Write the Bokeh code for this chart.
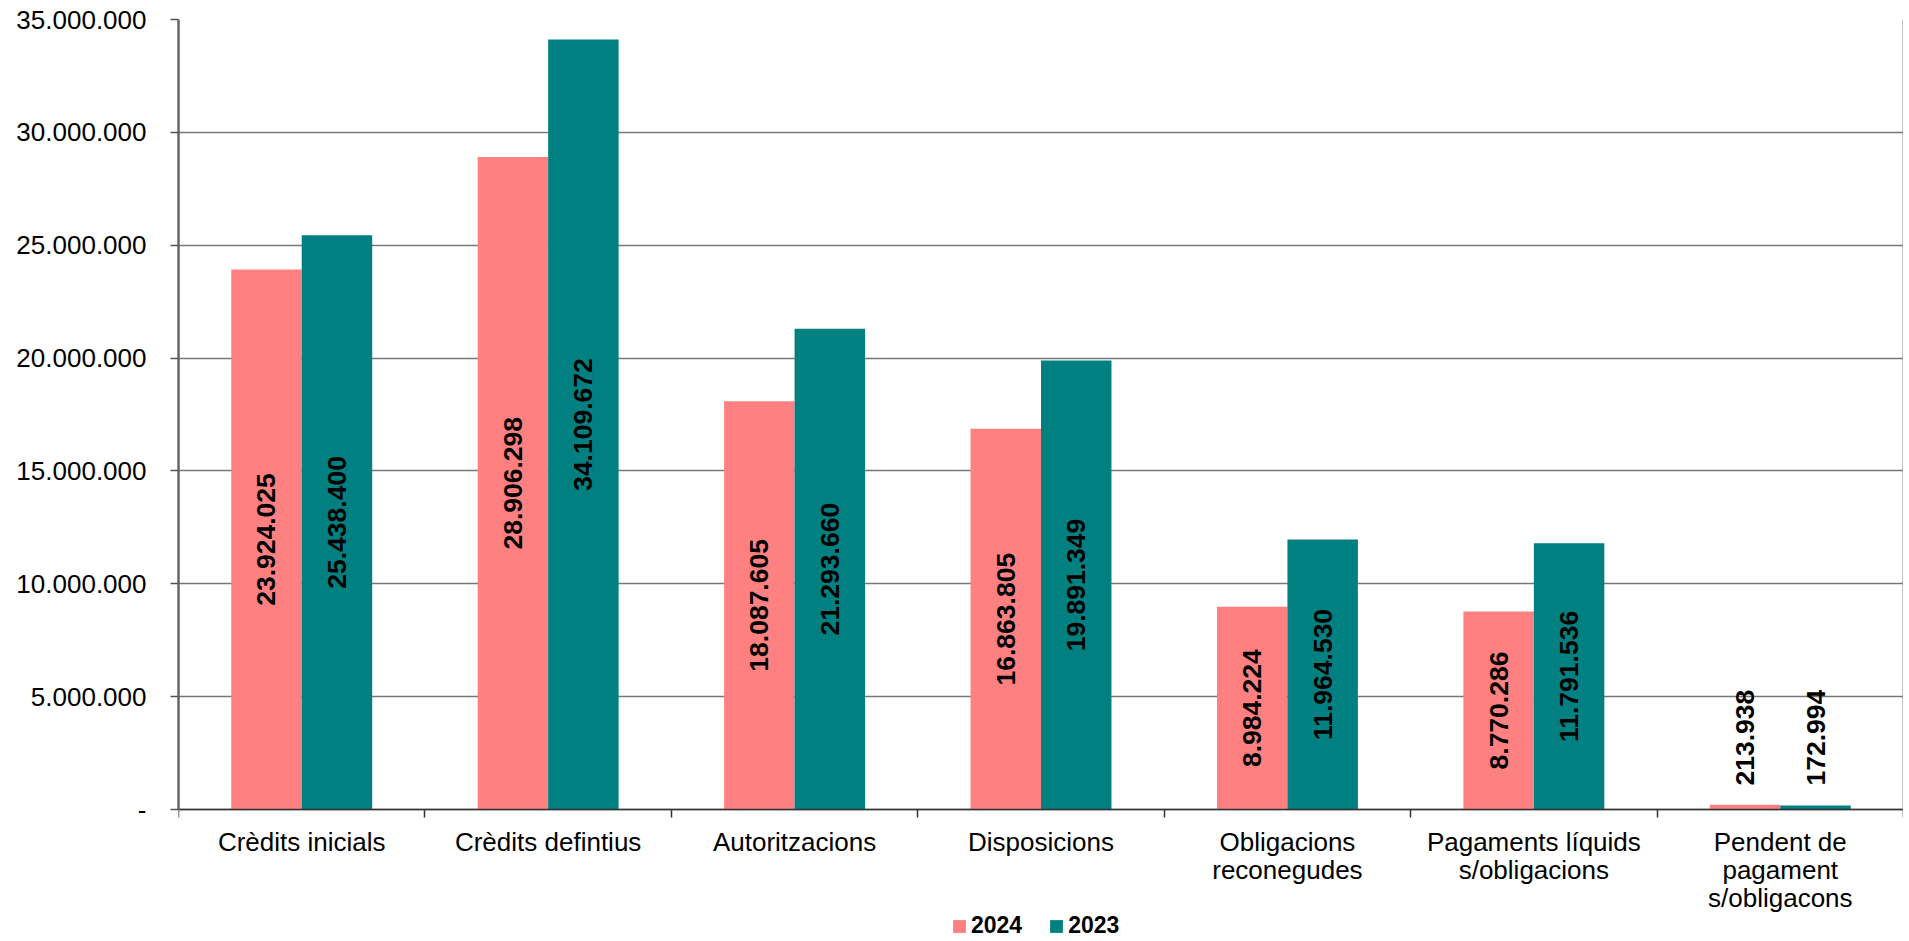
import numpy as np
from bokeh.plotting import figure
from bokeh.models import ColumnDataSource, FixedTicker, Range1d, Legend, LegendItem, LinearAxis
from bokeh.embed import file_html
from bokeh.resources import INLINE
from bokeh.core.properties import value

categories = ["Crèdits inicials", "Crèdits defintius", "Autoritzacions", "Disposicions",
              "Obligacions\nreconegudes", "Pagaments líquids\ns/obligacions",
              "Pendent de\npagament\ns/obligacons"]
series_names = ["2024", "2023"]
values_2024 = [23924025, 28906298, 18087605, 16863805, 8984224, 8770286, 213938]
values_2023 = [25438400, 34109672, 21293660, 19891349, 11964530, 11791536, 172994]
y_ticks = [0, 5000000, 10000000, 15000000, 20000000, 25000000, 30000000, 35000000]
colors = ["#FF8080", "#008080"]

FONT = "Liberation Sans"
n = len(categories)
idx = np.arange(n)
bar_w = 0.286
offsets = [-bar_w / 2, bar_w / 2]

# layout: value axis spans 790 px; frame extends 132 px below zero to hold axis labels + legend
PLOT_H = 790
BELOW = 132
y_start = -y_ticks[-1] * BELOW / PLOT_H


def fmt(v):
    return f"{v:,}".replace(",", ".")


p = figure(frame_width=1725, frame_height=PLOT_H + BELOW,
           x_range=Range1d(-0.5, n - 0.5), y_range=Range1d(y_start, y_ticks[-1]),
           output_backend="svg", toolbar_location=None,
           min_border_left=178, min_border_right=0, min_border_top=19, min_border_bottom=0)

renderers = []
inside = dict(x=[], y=[], t=[])
outside = dict(x=[], y=[], t=[])
for vals, off, col in zip([values_2024, values_2023], offsets, colors):
    xs = idx + off
    src = ColumnDataSource(dict(x=xs, top=vals))
    r = p.vbar(x="x", top="top", bottom=0, width=bar_w, source=src, fill_color=col, line_color=None)
    renderers.append(r)
    for x, v in zip(xs, vals):
        if v >= 2000000:
            inside["x"].append(x); inside["y"].append(v / 2); inside["t"].append(fmt(v))
        else:
            outside["x"].append(x); outside["y"].append(0); outside["t"].append(fmt(v))

p.text(x="x", y="y", text="t", source=ColumnDataSource(inside), angle=np.pi / 2,
       text_align="center", text_baseline="middle", text_font=value(FONT),
       text_font_size="26.5px", text_font_style="bold", text_color="black")
p.text(x="x", y="y", text="t", source=ColumnDataSource(outside), angle=np.pi / 2,
       text_align="left", text_baseline="middle", y_offset=-24, text_font=value(FONT),
       text_font_size="26.5px", text_font_style="bold", text_color="black")

# x axis drawn at value zero
xa = p.xaxis[0]
xa.fixed_location = 0
xa.ticker = FixedTicker(ticks=list(idx), minor_ticks=list(np.arange(n + 1) - 0.5))
xa.major_label_overrides = {int(i): c for i, c in zip(idx, categories)}
xa.major_tick_out = 0
xa.major_tick_in = 0
xa.minor_tick_out = 8
xa.minor_tick_in = 0
xa.minor_tick_line_color = "#333333"
xa.minor_tick_line_width = 1.5
xa.axis_line_color = "#333333"
xa.axis_line_width = 1.5
xa.major_label_text_font = FONT
xa.major_label_text_font_size = "26px"
xa.major_label_text_color = "black"
xa.major_label_text_line_height = 0.94
xa.major_label_standoff = 9

# y axis
ya = p.yaxis[0]
ya.bounds = (y_ticks[0], y_ticks[-1])
ya.ticker = FixedTicker(ticks=y_ticks, minor_ticks=[])
ya.major_label_overrides = {t: ("-" if t == 0 else fmt(t)) for t in y_ticks}
ya.major_tick_out = 8
ya.major_tick_in = 0
ya.major_tick_line_color = "#555555"
ya.major_tick_line_width = 1.5
ya.axis_line_color = "#666666"
ya.axis_line_width = 2.5
ya.major_label_text_font = FONT
ya.major_label_text_font_size = "26px"
ya.major_label_text_color = "black"
ya.major_label_standoff = 24

# right border of the plot area
ra = LinearAxis(ticker=FixedTicker(ticks=[], minor_ticks=[]), bounds=(y_ticks[0], y_ticks[-1]),
                axis_line_color="#888888", axis_line_width=2,
                major_tick_out=0, major_tick_in=0, minor_tick_out=0, minor_tick_in=0)
p.add_layout(ra, "right")

p.xgrid.grid_line_color = None
p.ygrid.ticker = FixedTicker(ticks=y_ticks, minor_ticks=[])
p.ygrid.grid_line_color = "#777777"
p.ygrid.grid_line_width = 1.5
p.outline_line_color = None

legend = Legend(items=[LegendItem(label=s, renderers=[r]) for s, r in zip(series_names, renderers)],
                orientation="horizontal", location=(773, 2),
                label_text_font=FONT, label_text_font_size="23px", label_text_font_style="bold",
                label_text_color="black",
                glyph_width=16, glyph_height=16, label_standoff=4, spacing=26,
                padding=0, margin=0, border_line_color=None, background_fill_alpha=0,
                label_height=20)
p.add_layout(legend)

open("out.html", "w").write(file_html(p, INLINE))
